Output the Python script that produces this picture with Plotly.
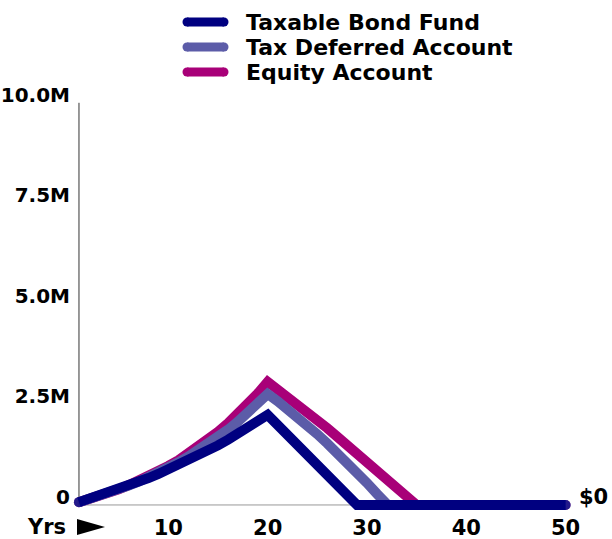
import plotly.graph_objects as go

W, H = 612, 539
ML, MR, MT, MB = 74, 34, 100, 26

# Account balances in $M by year: growth phase to year 20, then draw-down
years_bond = list(range(1, 21)) + [29, 50]
value_bond = [0.07, 0.15, 0.22, 0.31, 0.39, 0.48, 0.57, 0.67, 0.77, 0.88,
              0.99, 1.10, 1.23, 1.35, 1.48, 1.62, 1.77, 1.92, 2.08, 2.24,
              0, 0]

years_deferred = list(range(1, 32)) + [32.1, 50]
value_deferred = [0.07, 0.14, 0.22, 0.30, 0.39, 0.48, 0.58, 0.69, 0.80, 0.93,
                  1.06, 1.20, 1.35, 1.51, 1.68, 1.87, 2.07, 2.28, 2.50, 2.76,
                  2.58, 2.39, 2.19, 1.98, 1.76, 1.53, 1.30, 1.06, 0.81, 0.55,
                  0.28, 0, 0]

years_equity = list(range(1, 36)) + [50]
value_equity = [0.07, 0.14, 0.22, 0.30, 0.39, 0.49, 0.60, 0.71, 0.84, 0.97,
                1.11, 1.27, 1.44, 1.62, 1.82, 2.03, 2.26, 2.51, 2.77, 3.06,
                2.88, 2.70, 2.51, 2.32, 2.12, 1.91, 1.70, 1.48, 1.26, 1.04,
                0.84, 0.63, 0.41, 0.20, 0, 0]

series_names = ["Taxable Bond Fund", "Tax Deferred Account", "Equity Account"]
series_colors = ["#000080", "#5c5ca8", "#a80078"]

y_tickvals = [0, 2.5, 5, 7.5, 10]
y_ticktext = ["0", "2.5M", "5.0M", "7.5M", "10.0M"]
x_tickvals = [10, 20, 30, 40, 50]
x_ticktext = ["10", "20", "30", "40", "50"]

FONT = "DejaVu Sans"
LW = 10


def px(x):
    return (x - ML) / (W - ML - MR)


def py(y):
    return (H - MB - y) / (H - MT - MB)


def caps(n):
    # round ends on the first and last point of each line
    return [LW] + [0] * (n - 2) + [LW]


def bold(size):
    return dict(family=FONT, size=size, color="black", weight="bold")


fig = go.Figure()
# drawn back to front: equity, deferred, bond on top
for xs, ys, name, color in [
    (years_equity, value_equity, series_names[2], series_colors[2]),
    (years_deferred, value_deferred, series_names[1], series_colors[1]),
    (years_bond, value_bond, series_names[0], series_colors[0]),
]:
    fig.add_trace(go.Scatter(
        x=xs, y=ys, name=name, mode="lines+markers",
        line=dict(color=color, width=LW),
        marker=dict(color=color, size=caps(len(xs)), line=dict(width=0)),
        cliponaxis=False, showlegend=False, hoverinfo="skip",
    ))

shapes = [
    dict(type="line", xref="x", yref="y", x0=1, x1=1, y0=0, y1=10,
         line=dict(color="#333333", width=1), layer="below"),
    dict(type="line", xref="x", yref="y", x0=1, x1=50, y0=0, y1=0,
         line=dict(color="#999999", width=1), layer="below"),
    # arrow after "Yrs"
    dict(type="path", xref="paper", yref="paper",
         path=f"M{px(77)},{py(519)} L{px(77)},{py(535)} L{px(105)},{py(527)} Z",
         fillcolor="black", line=dict(width=0)),
]

annotations = [
    dict(text="Yrs", x=px(68), y=py(527), xref="paper", yref="paper",
         xanchor="right", yanchor="middle", showarrow=False, font=bold(21)),
    dict(text="$0", x=px(577), y=py(497), xref="paper", yref="paper",
         xanchor="left", yanchor="middle", showarrow=False, font=bold(21)),
]

# legend: rounded swatches with labels
legend_rows = [22, 47, 72]
r = 4.5
for row, name, color in zip(legend_rows, series_names, series_colors):
    shapes.append(dict(type="rect", xref="paper", yref="paper",
                       x0=px(187), x1=px(224), y0=py(row + r), y1=py(row - r),
                       fillcolor=color, line=dict(width=0)))
    for cx in (187, 224):
        shapes.append(dict(type="circle", xref="paper", yref="paper",
                           x0=px(cx - r), x1=px(cx + r),
                           y0=py(row + r), y1=py(row - r),
                           fillcolor=color, line=dict(width=0)))
    annotations.append(dict(text=name, x=px(244), y=py(row + 0.5), xref="paper",
                            yref="paper", xanchor="left", yanchor="middle",
                            showarrow=False, font=bold(22)))

fig.update_layout(
    width=W, height=H,
    margin=dict(l=ML, r=MR, t=MT, b=MB, pad=0, autoexpand=False),
    paper_bgcolor="white", plot_bgcolor="white",
    showlegend=False,
    shapes=shapes, annotations=annotations,
    xaxis=dict(range=[0.5, 51.25], tickvals=x_tickvals, ticktext=x_ticktext,
               showgrid=False, zeroline=False, showline=False, ticks="",
               automargin=False, ticklabelstandoff=0, tickfont=bold(21)),
    yaxis=dict(range=[-0.2, 10.07], tickvals=y_tickvals, ticktext=y_ticktext,
               showgrid=False, zeroline=False, showline=False, ticks="",
               automargin=False, ticklabelshift=-8, ticklabelstandoff=3,
               tickfont=bold(20)),
)

fig.write_html("out.html")
